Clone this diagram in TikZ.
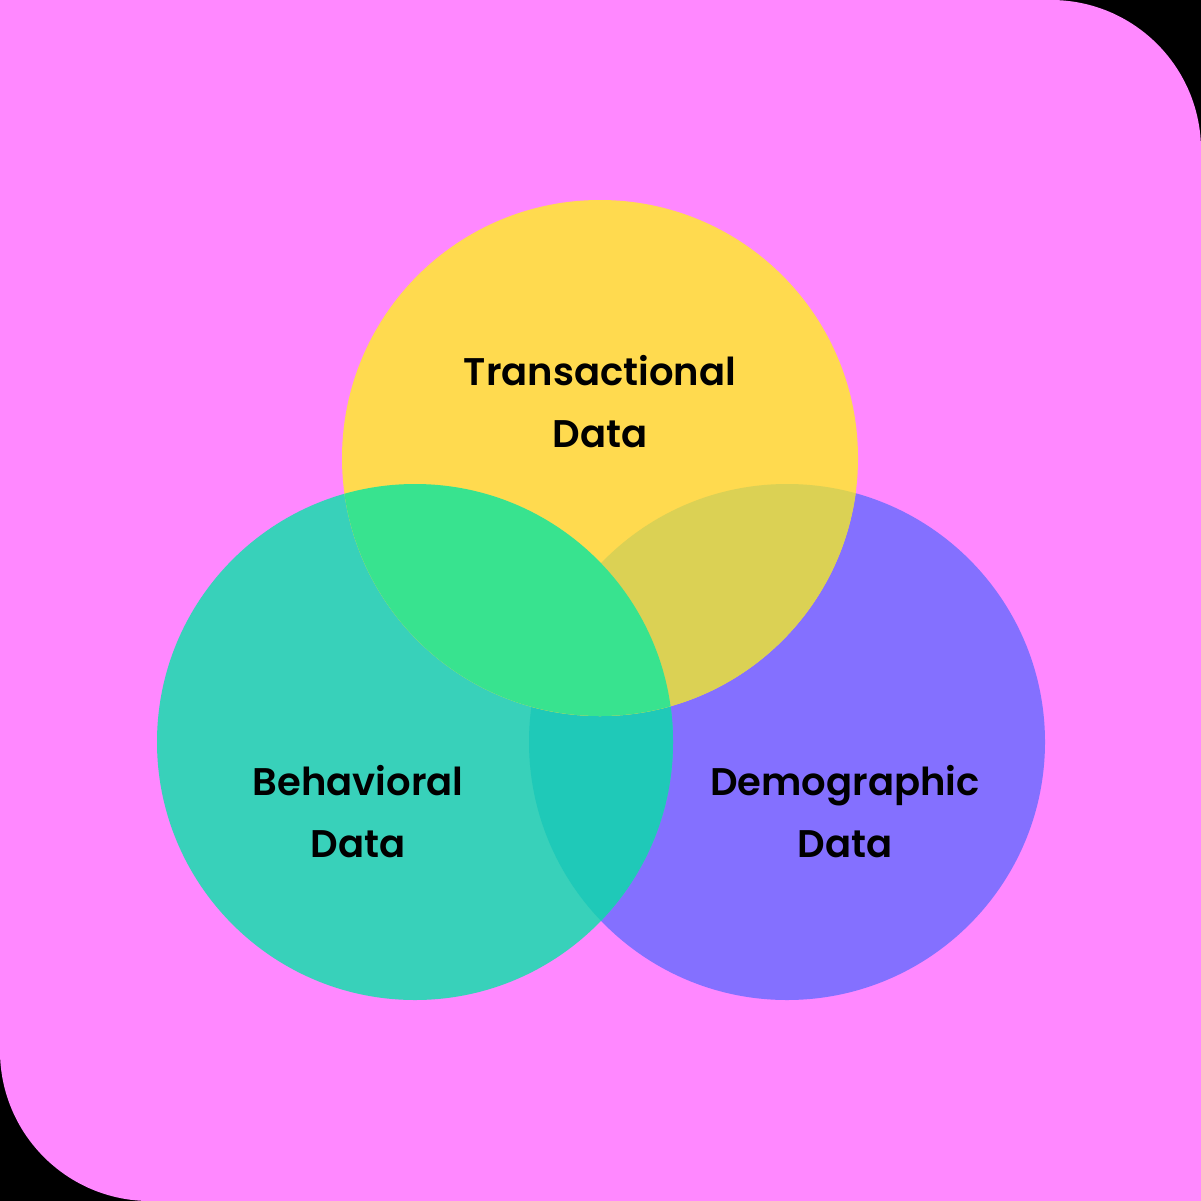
\documentclass[tikz,border=0pt]{standalone}
\usepackage{fontspec}
\setmainfont{Poppins}[UprightFont=* SemiBold,BoldFont=* Bold]
\definecolor{bgpink}{HTML}{FF88FF}
\definecolor{ylw}{HTML}{FFDA4F}
\definecolor{tealc}{HTML}{38D1BA}
\definecolor{purp}{HTML}{8470FF}
\definecolor{grn}{HTML}{38E38F}
\definecolor{olv}{HTML}{DBD154}
\definecolor{tp}{HTML}{1FC9B8}
\tikzset{label/.style={align=center, font=\fontsize{38.5}{62}\selectfont, text=black}}
\begin{document}
\begin{tikzpicture}[x=1pt,y=-1pt]
\fill[black] (0,0) rectangle (1201,1201);
\useasboundingbox (0,0) rectangle (1201,1201);
\fill[bgpink] (0,0) -- (1051,0) arc[start angle=-90,end angle=0,radius=150] -- (1201,1201) -- (150,1201) arc[start angle=90,end angle=180,radius=150] -- cycle;
% circles
\def\rad{258}
\coordinate (ct) at (600,458);
\coordinate (cb) at (415,742);
\coordinate (cd) at (787,742);
\fill[purp] (cd) circle (\rad);
\fill[tealc] (cb) circle (\rad);
\begin{scope}
\clip (cd) circle (\rad);
\fill[tp] (cb) circle (\rad);
\end{scope}
\fill[ylw] (ct) circle (\rad);
\begin{scope}
\clip (ct) circle (\rad);
\fill[olv] (cd) circle (\rad);
\fill[grn] (cb) circle (\rad);
\end{scope}
% labels
\node[label] (trans) at (600,402) {Transactional\\Data};
\node[label] (behav) at (358,812) {Behavioral\\Data};
\node[label] (demo) at (845,812) {Demographic\\Data};
\end{tikzpicture}
\end{document}
